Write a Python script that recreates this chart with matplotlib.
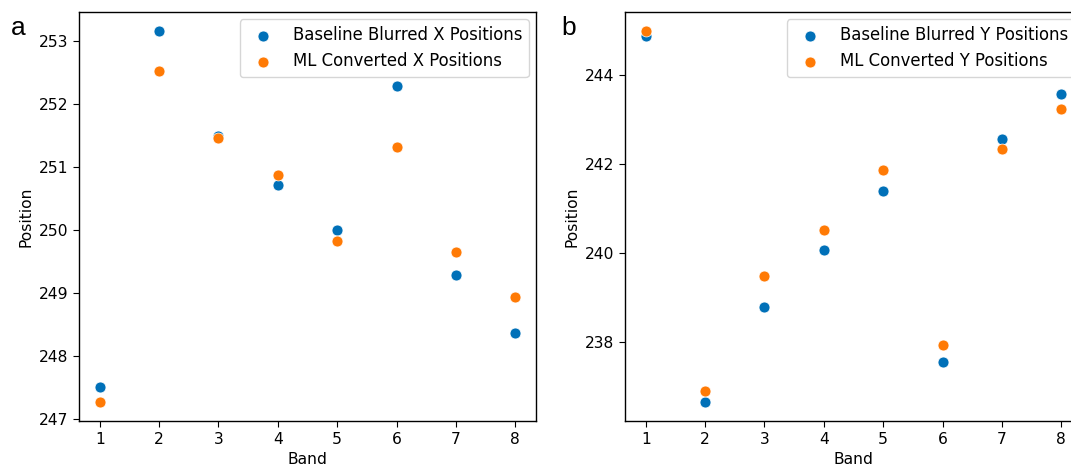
import matplotlib
matplotlib.use("Agg")
import matplotlib.pyplot as plt

bands = [1, 2, 3, 4, 5, 6, 7, 8]

baseline_x = [247.51, 253.17, 251.50, 250.71, 250.00, 252.29, 249.28, 248.36]
ml_x = [247.26, 252.53, 251.46, 250.87, 249.82, 251.32, 249.65, 248.94]

baseline_y = [244.87, 236.65, 238.79, 240.07, 241.39, 237.56, 242.57, 243.57]
ml_y = [245.00, 236.90, 239.50, 240.52, 241.87, 237.93, 242.34, 243.23]

label_bx = "Baseline Blurred X Positions"
label_mx = "ML Converted X Positions"
label_by = "Baseline Blurred Y Positions"
label_my = "ML Converted Y Positions"

BLUE = "#0070B8"
ORANGE = "#FF7A05"
FS = 11.2

plt.rcParams["font.family"] = ["DejaVu Sans"]
plt.rcParams["font.size"] = FS
plt.rcParams["xtick.major.size"] = 4.2
plt.rcParams["ytick.major.size"] = 4.2
plt.rcParams["axes.linewidth"] = 1.0

fig = plt.figure(figsize=(10.71, 4.71), dpi=100)
W, H = 1071, 471
ax1 = fig.add_axes([79 / W, (H - 421) / H, 457 / W, 409 / H])
ax2 = fig.add_axes([625 / W, (H - 421) / H, 457 / W, 409 / H])

for ax, b, m, lb, lm in [(ax1, baseline_x, ml_x, label_bx, label_mx),
                          (ax2, baseline_y, ml_y, label_by, label_my)]:
    ax.scatter(bands, b, s=62, color=BLUE, edgecolors="white", linewidths=0.5,
               label=lb, zorder=3)
    ax.scatter(bands, m, s=62, color=ORANGE, edgecolors="white", linewidths=0.5,
               label=lm, zorder=3)
    ax.set_xticks(bands)
    ax.set_xlabel("Band", fontsize=FS)
    ax.set_ylabel("Position", fontsize=FS)
    ax.tick_params(labelsize=FS)
    ax.legend(loc="upper right", fontsize=11.9, borderaxespad=0.45)

ax1.set_yticks([247, 248, 249, 250, 251, 252, 253])
ax2.set_yticks([238, 240, 242, 244])

fig.text(18 / W, 1 - 35 / H, "a", fontsize=19, family="Liberation Sans",
         ha="center", va="baseline")
fig.text(569 / W, 1 - 35 / H, "b", fontsize=19, family="Liberation Sans",
         ha="center", va="baseline")

fig.savefig("out.png", dpi=100)
